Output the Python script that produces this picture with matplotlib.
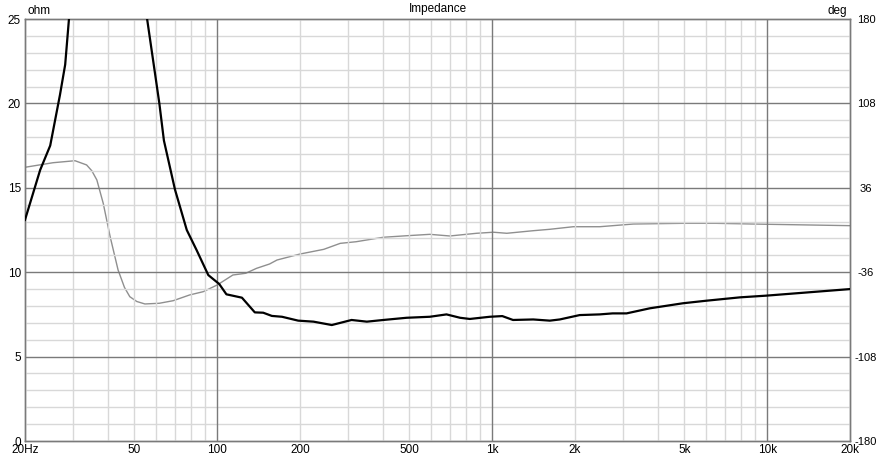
import numpy as np
import matplotlib
matplotlib.use('Agg')
import matplotlib.pyplot as plt
import matplotlib.ticker as ticker

plt.rcParams['font.family'] = ['Liberation Sans', 'DejaVu Sans']
plt.rcParams['axes.unicode_minus'] = False

# ── Data ──────────────────────────────────────────────────────────────────────
# impedance magnitude, ohm (goes off the top around the resonance)
mag_freq = [20, 22.7, 24.7, 26.8, 28.0, 28.9, 29.6, np.nan, 52, 55.6, 61.6, 64,
            70.2, 77.5, 84.2, 92.8, 101.7, 108, 123, 137, 147, 158, 172, 197,
            224, 261, 308, 350, 402, 488, 593, 682, 764, 829, 980, 1088, 1190,
            1410, 1620, 1760, 2080, 2460, 2740, 3080, 3740, 4940, 6000, 7960,
            9900, 20000]
mag_ohm = [13.1, 16.05, 17.5, 20.5, 22.3, 25.0, 27.5, np.nan, 28.0, 25.0, 20.0, 17.8,
           14.9, 12.5, 11.3, 9.83, 9.3, 8.69, 8.49, 7.62, 7.60, 7.41, 7.36, 7.13,
           7.07, 6.87, 7.17, 7.07, 7.17, 7.3, 7.36, 7.5, 7.3, 7.23, 7.36, 7.4, 7.17,
           7.2, 7.13, 7.2, 7.46, 7.5, 7.56, 7.56, 7.86, 8.16, 8.31, 8.51,
           8.61, 9.0]

# impedance phase, deg
ph_freq = [20, 25.3, 30.4, 33.5, 35.0, 36.5, 38.5, 40.8, 43.6, 46.0, 48.1, 51.0,
           54.6, 61.6, 69.2, 79.4, 89, 100, 114, 127, 139, 155, 165, 200, 244,
           280, 320, 402, 488, 593, 701, 878, 1010, 1130, 1410, 1620, 1970, 2460,
           3260, 4940, 6500, 9900, 20000]
ph_deg = [53.5, 57.4, 59.1, 55.5, 50.5, 42.7, 22.8, -5.7, -34.1, -49.0, -56.9, -61.0,
          -63.1, -62.5, -60.3, -55.4, -52.6, -46.9, -38.4, -36.9, -32.7, -29.0, -25.6,
          -20.5, -16.5, -11.4, -10.0, -6.2, -4.9, -3.7, -5.1, -2.8, -1.9, -2.8, -0.6,
          0.6, 2.8, 2.8, 5.1, 5.7, 5.7, 4.9, 3.7]

x_ticks = [20, 50, 100, 200, 500, 1000, 2000, 5000, 10000, 20000]
x_labels = ['20Hz', '50', '100', '200', '500', '1k', '2k', '5k', '10k', '20k']
ohm_ticks = [0, 5, 10, 15, 20, 25]
deg_ticks = [-180, -108, -36, 36, 108, 180]

MAJOR = '#7a7a7a'
MINOR = '#d8d8d8'
FS = 8.5

# ── Layout ────────────────────────────────────────────────────────────────────
W, H = 877, 459
fig = plt.figure(figsize=(W / 100, H / 100), dpi=100, facecolor='white')
ax = fig.add_axes([25 / W, (H - 441) / H, 825 / W, 422 / H])
ax2 = ax.twinx()

ax.set_xscale('log')
ax.set_xlim(20, 20000)
ax.set_ylim(0, 25)
ax2.set_ylim(-180, 180)

# grid: light minor lines, darker decade / 5-ohm lines
minor_x = [m * d for d in (10, 100, 1000) for m in range(2, 10)
           if 20 < m * d < 20000 and m * d not in (100, 1000, 10000)]
for f in minor_x:
    ax.axvline(f, color=MINOR, lw=1.0, zorder=0)
for v in range(1, 25):
    if v % 5:
        ax.axhline(v, color=MINOR, lw=1.0, zorder=0)
for f in (100, 1000, 10000):
    ax.axvline(f, color=MAJOR, lw=1.0, zorder=0.5)
for v in (5, 10, 15, 20):
    ax.axhline(v, color=MAJOR, lw=1.0, zorder=0.5)

# curves
ax2.plot(ph_freq, ph_deg, color='#8f8f8f', lw=1.0, zorder=2)
ax.plot(mag_freq, mag_ohm, color='black', lw=1.6, zorder=3)
ax.set_zorder(ax2.get_zorder() + 1)
ax.patch.set_visible(False)

# ticks
ax.xaxis.set_major_locator(ticker.FixedLocator(x_ticks))
ax.xaxis.set_major_formatter(ticker.FixedFormatter(x_labels))
ax.xaxis.set_minor_locator(ticker.NullLocator())
ax.set_yticks(ohm_ticks)
ax2.set_yticks(deg_ticks)
ax.tick_params(axis='both', length=0, labelsize=FS, colors='black')
ax.tick_params(axis='x', pad=2)
ax.tick_params(axis='y', pad=3)
ax2.tick_params(axis='y', length=0, labelsize=8, pad=11.5, colors='black')
for lbl in ax2.get_yticklabels():
    lbl.set_horizontalalignment('center')

for a in (ax, ax2):
    for s in a.spines.values():
        s.set_color(MAJOR)
        s.set_linewidth(1.0)

# labels
fig.text(437.5 / W, 1 - 9 / H, 'Impedance', ha='center', va='center', fontsize=FS)
fig.text(27 / W, 1 - 11 / H, 'ohm', ha='left', va='center', fontsize=FS)
fig.text(847 / W, 1 - 11 / H, 'deg', ha='right', va='center', fontsize=FS)

fig.savefig('out.png', dpi=100, facecolor='white')
